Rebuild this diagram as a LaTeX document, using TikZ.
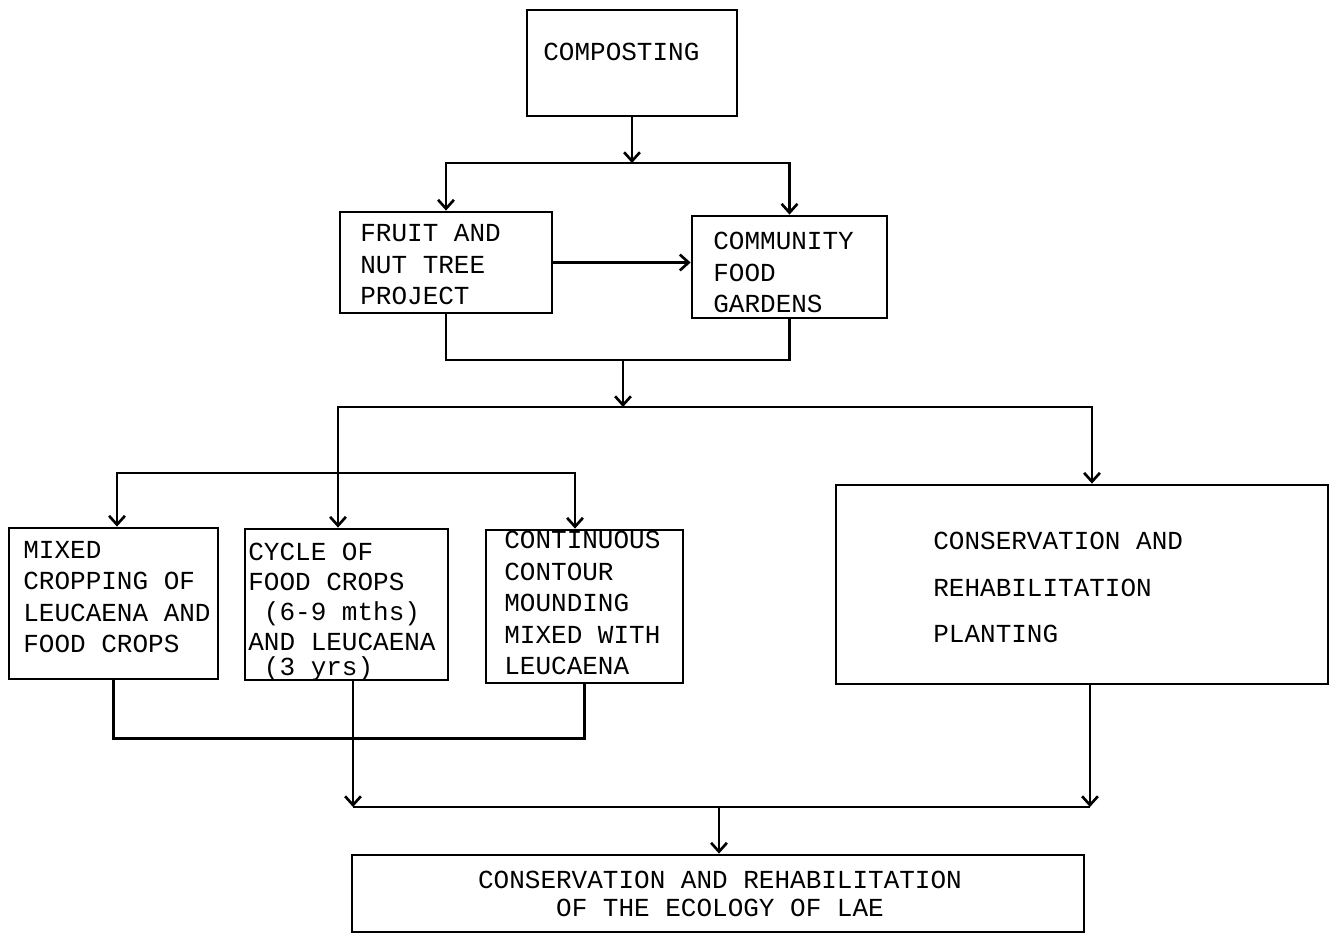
\documentclass[tikz,border=0pt]{standalone}
\usepackage{fontspec}
\setmonofont{Liberation Mono}
\usetikzlibrary{arrows.meta}
\usetikzlibrary{calc}
\newcommand{\typew}[1]{\ttfamily\fontsize{14.8}{#1}\selectfont}

\tikzset{
	box/.style={draw, line width=1.6pt, inner sep=0pt},
	lbl/.style={anchor=base west, align=left, inner sep=0pt, font=\typew{17.9}},
	wire/.style={line width=1.5pt},
	arr/.style={-{Straight Barb[length=5pt,width=9pt]}},
}

\begin{document}
\begin{tikzpicture}[x=0.02cm,y=-0.02cm]
			\useasboundingbox (0,0) rectangle (1333,934);

			\node[box, minimum width=4.2cm, minimum height=2.12cm] (comp) at (632,63) {};
			\node[box, minimum width=4.24cm, minimum height=2.02cm] (fruit) at (446,262.5) {};
			\node[box, minimum width=3.9cm, minimum height=2.04cm] (comm) at (789.5,267) {};
			\node[box, minimum width=4.18cm, minimum height=3.02cm] (mixed) at (113.5,603.5) {};
			\node[box, minimum width=4.06cm, minimum height=3.02cm] (cycle) at (346.5,604.5) {};
			\node[box, minimum width=3.94cm, minimum height=3.06cm] (contour) at (584.5,606.5) {};
			\node[box, minimum width=9.84cm, minimum height=3.98cm] (plant) at (1082,584.5) {};
			\node[box, minimum width=14.64cm, minimum height=1.54cm] (ecol) at (718,893.5) {};

			% base anchor = baseline of the last line
			\node[lbl] (comp-t) at (543,60.5) {COMPOSTING};
			\node[lbl] (fruit-t) at (360,304.5) {FRUIT AND\\NUT TREE\\PROJECT};
			\node[lbl] (comm-t) at (713,312.5) {COMMUNITY\\FOOD\\GARDENS};
			\node[lbl] (mixed-t) at (23,652.5) {MIXED\\CROPPING OF\\LEUCAENA AND\\FOOD CROPS};
			\node[lbl, font=\typew{17}] (cycle-t) at (248,675) {CYCLE OF\\FOOD CROPS\\~(6-9 mths)\\AND LEUCAENA\\[-3pt]~(3 yrs)};
			\node[lbl] (contour-t) at (504,674.5) {CONTINUOUS\\CONTOUR\\MOUNDING\\MIXED WITH\\LEUCAENA};
			\node[lbl, font=\typew{26.4}] (plant-t) at (933,642.5) {CONSERVATION AND\\REHABILITATION\\PLANTING};
			\node[lbl, anchor=base, align=center, font=\typew{15.9}] (ecol-t) at (720,916) {CONSERVATION AND REHABILITATION\\OF THE ECOLOGY OF LAE};

			\coordinate (j1) at (632,163);
			\coordinate (j2) at (623,360);
			\coordinate (j3) at (623,407);
			\coordinate (j4) at (338,473);
			\coordinate (j5) at (719,807);
			\coordinate (j6) at (353,807);
			\coordinate (j7) at (1090,807);

			\draw[wire, arr] (comp) -- (j1);
			\draw[wire, arr] (j1) -| (fruit);
			\draw[wire, arr] (j1) -| (comm);
			\draw[wire, arr] (fruit.east) -- (fruit.east -| comm.west);
			\draw[wire] (fruit.south) |- (j2) -| (comm.south);
			\draw[wire, arr] (j2) -- (j3);

			\draw[wire] (j3) -| (j4);
			\draw[wire, arr] (j4) -- (j4 |- cycle.north);
			\draw[wire, arr] (j4) -| ([xshift=0.07cm]mixed.north);
			\draw[wire, arr] (j4) -| ([xshift=-0.19cm]contour.north);
			\draw[wire, arr] (j3) -| ([xshift=0.2cm]plant.north);

			\draw[wire] (mixed.south) -- ++(0,58) -| (contour.south);
			\draw[wire, arr] (cycle.south -| j6) -- (j6);
			\draw[wire, arr] (plant.south -| j7) -- (j7);
			\draw[wire] (j6) -- (j7);
			\draw[wire, arr] (j5) -- (j5 |- ecol.north);
		\end{tikzpicture}
\end{document}
